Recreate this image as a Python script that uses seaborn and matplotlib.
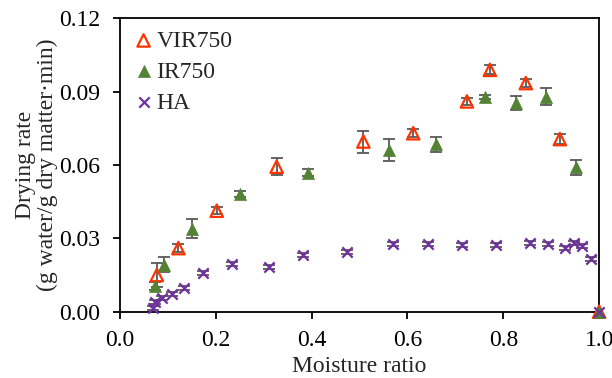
import numpy as np
import pandas as pd
import matplotlib
matplotlib.use("Agg")
import matplotlib.pyplot as plt
import seaborn as sns

# Moisture ratio (x) and drying rate (y) for each drying method
mr_vir = [0.077, 0.122, 0.202, 0.327, 0.508, 0.612, 0.724, 0.772, 0.847, 0.918, 1.0]
dr_vir = [0.0150, 0.0260, 0.0413, 0.0593, 0.0696, 0.0730, 0.0860, 0.0989, 0.0935, 0.0706, 0.0]
err_vir = [0.0050, 0.0015, 0.0015, 0.0035, 0.0045, 0.0017, 0.0015, 0.0018, 0.0018, 0.0020, 0.0]

mr_ir = [0.073, 0.092, 0.150, 0.250, 0.393, 0.562, 0.659, 0.761, 0.826, 0.889, 0.952, 1.0]
dr_ir = [0.0105, 0.0193, 0.0340, 0.0482, 0.0568, 0.0662, 0.0685, 0.0878, 0.0853, 0.0880, 0.0590, 0.0]
err_ir = [0.0015, 0.0030, 0.0040, 0.0012, 0.0015, 0.0044, 0.0030, 0.0008, 0.0030, 0.0034, 0.0030, 0.0]

mr_ha = [0.068, 0.073, 0.087, 0.108, 0.134, 0.173, 0.233, 0.310, 0.383, 0.473, 0.569,
         0.642, 0.713, 0.785, 0.856, 0.893, 0.929, 0.947, 0.965, 0.984, 1.0]
dr_ha = [0.0014, 0.0041, 0.0055, 0.0071, 0.0096, 0.0160, 0.0194, 0.0184, 0.0232, 0.0246, 0.0276,
         0.0276, 0.0273, 0.0273, 0.0280, 0.0277, 0.0260, 0.0280, 0.0269, 0.0214, 0.0]
err_ha = [0.0008] * 20 + [0.0]

x_ticks = [0.0, 0.2, 0.4, 0.6, 0.8, 1.0]
y_ticks = [0.00, 0.03, 0.06, 0.09, 0.12]

sns.set_style("ticks")
plt.rcParams['font.family'] = ['Liberation Serif', 'DejaVu Serif']

fig = plt.figure(figsize=(6.12, 3.78), dpi=100)
ax = fig.add_axes([0.196, 0.1754, 0.783, 0.7762])

fs = 17
err_col = '#595959'
for xs, ys, es in [(mr_vir, dr_vir, err_vir), (mr_ir, dr_ir, err_ir), (mr_ha, dr_ha, err_ha)]:
    ax.errorbar(xs, ys, yerr=es, fmt='none', ecolor=err_col, elinewidth=1.3,
                capsize=4.3, capthick=1.3, zorder=2)

sns.scatterplot(x=mr_vir, y=dr_vir, ax=ax, marker='^', s=80, facecolors='none',
                edgecolors='#FF3300', linewidth=1.6, label='VIR750', zorder=3, clip_on=False)
sns.scatterplot(x=mr_ir, y=dr_ir, ax=ax, marker='^', s=75, color='#548235',
                edgecolor='#548235', linewidth=0.5, label='IR750', zorder=4, clip_on=False)
sns.scatterplot(x=mr_ha, y=dr_ha, ax=ax, marker='x', s=55, color='#7030A0',
                linewidth=1.6, label='HA', zorder=5, clip_on=False)

ax.set_xlim(0, 1.0)
ax.set_ylim(0, 0.12)
ax.set_xticks(x_ticks)
ax.set_xticklabels([f"{v:.1f}" for v in x_ticks])
ax.set_yticks(y_ticks)
ax.set_yticklabels([f"{v:.2f}" for v in y_ticks])
ax.tick_params(axis='both', labelsize=fs, direction='out', length=5, width=1.3,
               color='black', labelcolor='black')
ax.tick_params(axis='y', pad=9)
ax.tick_params(axis='x', pad=8)
for sp in ax.spines.values():
    sp.set_visible(True)
    sp.set_color('black')
    sp.set_linewidth(1.3)

ax.set_xlabel('Moisture ratio', fontsize=fs, labelpad=4)
ax.set_ylabel('Drying rate\n(g water/g dry matter·min)', fontsize=fs, linespacing=1.0)
ax.yaxis.set_label_coords(-0.13, 0.5)

ax.legend(loc='upper left', frameon=False, fontsize=fs, handletextpad=0.05,
          labelspacing=0.4, borderaxespad=0.1, handlelength=1.0,
          bbox_to_anchor=(0.0, 1.0))

fig.savefig('out.png', dpi=100)
